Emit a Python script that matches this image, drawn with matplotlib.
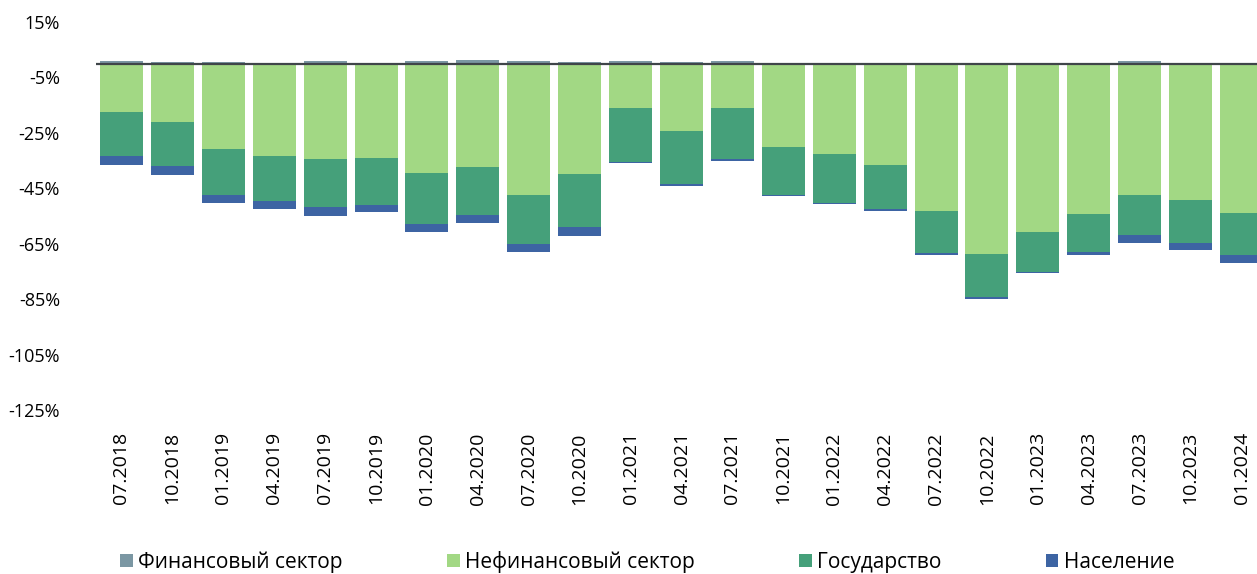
import matplotlib
matplotlib.use("Agg")
import matplotlib.pyplot as plt
import numpy as np

plt.rcParams["font.family"] = ["Open Sans", "DejaVu Sans"]

# ── данные (доли, %) ──
dates = ["07.2018", "10.2018", "01.2019", "04.2019", "07.2019", "10.2019",
         "01.2020", "04.2020", "07.2020", "10.2020", "01.2021", "04.2021",
         "07.2021", "10.2021", "01.2022", "04.2022", "07.2022", "10.2022",
         "01.2023", "04.2023", "07.2023", "10.2023", "01.2024"]
fin_sector = [0.9, 0.4, 0.4, 0.3, 1.1, 0.3, 0.9, 1.2, 0.9, 0.5, 0.8, 0.6,
              0.8, 0.0, 0.0, 0.0, 0.0, 0.0, 0.0, 0.0, 0.9, 0.0, 0.0]
nonfin_sector = [-17.4, -21.2, -31.0, -33.3, -34.5, -34.2, -39.5, -37.2, -47.5, -39.8, -16.1, -24.5,
                 -16.1, -30.0, -32.7, -36.5, -53.2, -68.6, -60.8, -54.3, -47.4, -49.2, -54.0]
government = [-16.0, -15.7, -16.4, -16.4, -17.3, -16.8, -18.3, -17.3, -17.7, -19.3, -19.4, -19.1,
              -18.5, -17.3, -17.6, -16.1, -15.1, -15.6, -14.4, -13.8, -14.6, -15.4, -15.2]
households = [-3.2, -3.2, -3.0, -2.8, -3.1, -2.7, -3.0, -2.9, -2.8, -3.0, -0.4, -0.4,
              -0.4, -0.4, -0.3, -0.5, -0.6, -0.6, -0.5, -1.1, -2.9, -2.5, -2.6]

COLORS = {
    "fin": "#7b97a3",
    "nonfin": "#a2d884",
    "gov": "#45a07a",
    "hh": "#3d64a3",
}

fig = plt.figure(figsize=(12.57, 5.74), dpi=100)
# правый край оси выходит за рисунок (как в исходнике)
ax = fig.add_axes([96 / 1257, 1 - 410 / 574, 1171 / 1257, 388 / 574])

x = np.arange(len(dates))
w = 0.845
nonfin = np.array(nonfin_sector)
gov = np.array(government)

ax.bar(x, fin_sector, w, color=COLORS["fin"], label="Финансовый сектор")
ax.bar(x, nonfin, w, color=COLORS["nonfin"], label="Нефинансовый сектор")
ax.bar(x, gov, w, bottom=nonfin, color=COLORS["gov"], label="Государство")
ax.bar(x, households, w, bottom=nonfin + gov, color=COLORS["hh"], label="Население")

ax.axhline(0, color="#3f4549", linewidth=1.6)

ax.set_xlim(-0.5, len(dates) - 0.5)
ax.set_ylim(-125, 15)
ax.set_yticks(np.arange(-125, 16, 20))
ax.set_yticklabels([f"{v}%" for v in range(-125, 16, 20)])
ax.set_xticks(x)
ax.set_xticklabels(dates, rotation=90, va="top", ha="center")
ax.tick_params(axis="y", length=0, pad=26, labelsize=13)
ax.tick_params(axis="x", length=0, pad=16, labelsize=14)
for s in ax.spines.values():
    s.set_visible(False)

ax.legend(loc="center left", bbox_to_anchor=(24 / 1171, -(562 - 410) / 388),
          ncol=4, frameon=False, fontsize=15, handlelength=0.62, handleheight=0.62,
          handletextpad=0.25, columnspacing=5.0, borderaxespad=0, borderpad=0)

fig.savefig("out.png", dpi=100)
